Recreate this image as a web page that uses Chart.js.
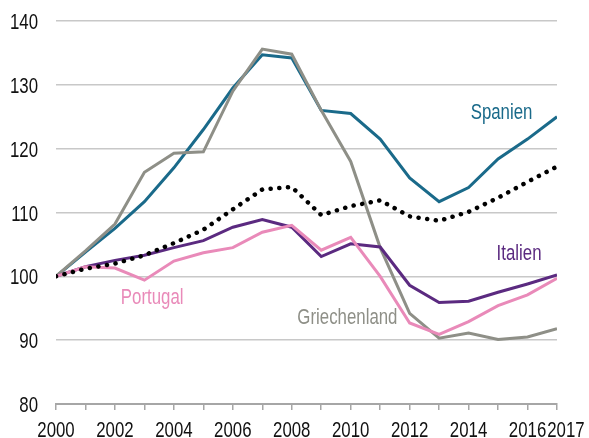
<!DOCTYPE html>
<html>
<head>
<meta charset="utf-8">
<script src="https://cdn.jsdelivr.net/npm/chart.js@4/dist/chart.umd.min.js"></script>
<style>
  html, body { margin: 0; padding: 0; background: #fff; }
  #wrap { width: 589px; height: 438px; }
</style>
</head>
<body>
<div id="wrap"><canvas id="grafico" width="589" height="438"></canvas></div>
<script>
const jahre = [2000, 2001, 2002, 2003, 2004, 2005, 2006, 2007, 2008, 2009, 2010, 2011, 2012, 2013, 2014, 2015, 2016, 2017];

const spanien       = [100, 103.8, 107.5, 111.7, 117, 123, 129.5, 134.7, 134.2, 126, 125.5, 121.5, 115.4, 111.7, 113.9, 118.4, 121.5, 125];
const griechenland  = [100, 104, 108.2, 116.3, 119.3, 119.5, 129, 135.6, 134.8, 126, 118, 104.5, 94.2, 90.3, 91.1, 90.1, 90.5, 91.8];
const italien       = [100, 101.5, 102.5, 103.3, 104.5, 105.6, 107.7, 108.9, 107.7, 103.1, 105.1, 104.6, 98.6, 95.9, 96.1, 97.5, 98.8, 100.2];
const portugal      = [100, 101.5, 101.3, 99.4, 102.4, 103.7, 104.5, 106.9, 108, 104.1, 106.1, 100, 92.7, 90.9, 92.9, 95.4, 97.1, 99.7];
const euroraum      = [100, 101.2, 102, 103.3, 105.2, 107.3, 110.5, 113.6, 114, 109.6, 111, 111.9, 109.4, 108.7, 110.1, 112.3, 114.8, 117.2];

const xBeschriftung = [2000, 2002, 2004, 2006, 2008, 2010, 2012, 2014, 2016, 2017];

// Beschriftungen im Diagramm: [Text, Jahr (linker Rand), Wert (Grundlinie), Farbe]
const etiketten = [
  ['Spanien', 2014.07, 124.65, '#1a6a8a'],
  ['Italien', 2014.95, 102.56, '#5b2a80'],
  ['Portugal', 2002.2, 95.66, '#e98ab9'],
  ['Griechenland', 2008.19, 92.48, '#8e8f87']
];

const schrift = '22px "Liberation Sans", Arial, sans-serif';
const schmal = 0.765; // Schrift horizontal stauchen (wie Arial Narrow)

function punkte(werte) {
  return werte.map((v, i) => ({ x: jahre[i], y: v }));
}

function text(ctx, t, x, y, align) {
  ctx.save();
  ctx.translate(x, y);
  ctx.scale(schmal, 1);
  ctx.textAlign = align;
  ctx.textBaseline = 'alphabetic';
  ctx.fillText(t, 0, 0);
  ctx.restore();
}

const textPlugin = {
  id: 'texte',
  afterDraw(chart) {
    const ctx = chart.ctx;
    const xs = chart.scales.x, ys = chart.scales.y;
    ctx.save();
    ctx.font = schrift;

    // y-Achse
    ctx.fillStyle = '#111';
    ys.ticks.forEach(t => {
      text(ctx, String(t.value), 38, ys.getPixelForValue(t.value) + 8, 'right');
    });

    // x-Achse (letzte Beschriftung nach rechts schieben, wenn sie sich überlappt)
    let rechts = -Infinity;
    xBeschriftung.forEach(j => {
      const w = ctx.measureText(String(j)).width * schmal;
      let mitte = xs.getPixelForValue(j);
      if (mitte - w / 2 < rechts + 1) mitte = rechts + 1 + w / 2;
      text(ctx, String(j), mitte, 437, 'center');
      rechts = mitte + w / 2;
    });

    // Reihenbeschriftungen
    etiketten.forEach(e => {
      ctx.fillStyle = e[3];
      text(ctx, e[0], xs.getPixelForValue(e[1]), ys.getPixelForValue(e[2]), 'left');
    });
    ctx.restore();
  }
};

new Chart(document.getElementById('grafico').getContext('2d'), {
  type: 'line',
  data: {
    datasets: [
      { label: 'Euroraum', data: punkte(euroraum), borderColor: '#000', borderWidth: 4.5,
        borderDash: [0.1, 8.6], borderCapStyle: 'round', order: 0 },
      { label: 'Portugal', data: punkte(portugal), borderColor: '#e98ab9', borderWidth: 3, order: 1 },
      { label: 'Italien', data: punkte(italien), borderColor: '#5b2a80', borderWidth: 3, order: 2 },
      { label: 'Griechenland', data: punkte(griechenland), borderColor: '#8e8f87', borderWidth: 3, order: 3 },
      { label: 'Spanien', data: punkte(spanien), borderColor: '#1a6a8a', borderWidth: 3, order: 4 }
    ]
  },
  options: {
    responsive: false,
    animation: false,
    elements: { point: { radius: 0 }, line: { tension: 0 } },
    layout: { padding: { left: 0, right: 32, top: 21, bottom: 0 } },
    plugins: { legend: { display: false }, tooltip: { enabled: false } },
    scales: {
      x: {
        type: 'linear',
        min: 2000,
        max: 2017,
        afterFit(s) { s.height = 34; },
        afterBuildTicks(s) { s.ticks = jahre.map(j => ({ value: j })); },
        ticks: { display: false, autoSkip: false },
        grid: { drawOnChartArea: false, drawTicks: true, tickLength: 6, color: '#a6a6a6', lineWidth: 1.5 },
        border: { display: true, color: '#a6a6a6', width: 2 }
      },
      y: {
        min: 80,
        max: 140,
        afterFit(s) { s.width = 56; },
        ticks: { display: false, stepSize: 10 },
        grid: { drawTicks: false, color: '#c8c8c8', lineWidth: 1.5 },
        border: { display: false }
      }
    }
  },
  plugins: [textPlugin]
});
</script>
</body>
</html>
